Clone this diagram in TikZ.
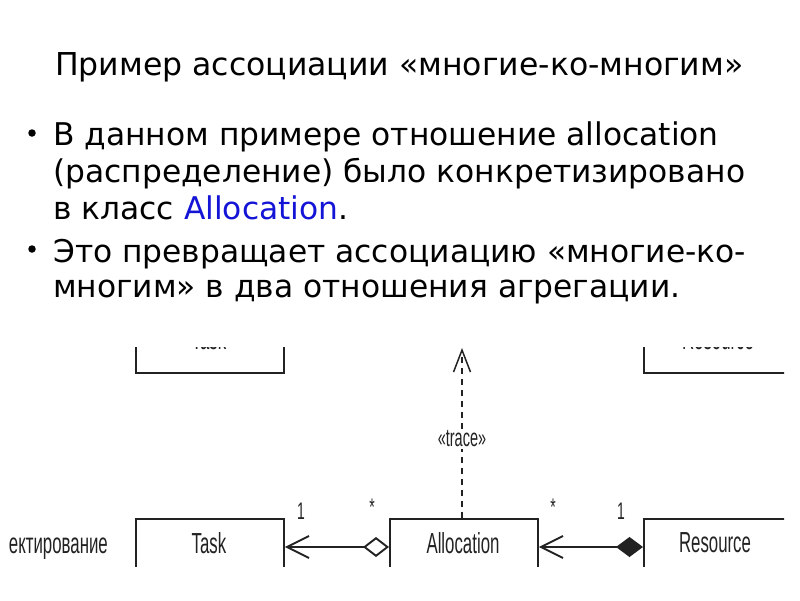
\documentclass[tikz,border=0pt]{standalone}
\usepackage{fontspec}
\setmainfont{DejaVu Sans}
\newfontfamily\umlfont[FakeStretch=0.58]{Liberation Sans}
\usetikzlibrary{arrows.meta}
\definecolor{linkblue}{RGB}{20,20,215}
\definecolor{umlink}{RGB}{34,34,34}
\begin{document}
\begin{tikzpicture}[x=1pt,y=-1pt,
  titletext/.style={anchor=base west, inner sep=0pt, font=\fontsize{31.5}{38}\selectfont},
  bodytext/.style={anchor=base west, inner sep=0pt, font=\fontsize{31.3}{37}\selectfont},
  bulletdot/.style={circle, fill=black, inner sep=0pt, minimum size=7.5pt},
  umlbox/.style={draw=umlink, line width=1.9pt, rectangle, inner sep=0pt, minimum width=148pt, minimum height=58pt, anchor=north west, text=umlink, font=\umlfont\fontsize{29}{32}\selectfont},
  umltext/.style={text=umlink, inner sep=0pt, font=\umlfont\fontsize{29}{32}\selectfont},
  multtext/.style={text=umlink, inner sep=0pt, font=\umlfont\fontsize{24}{26}\selectfont},
  assocline/.style={draw=umlink, line width=1.9pt},
  deptrace/.style={draw=umlink, line width=2pt, dash pattern=on 6pt off 5pt}
]
\useasboundingbox (0,0) rectangle (800,600);
% slide title
\node[titletext] (title) at (55,75) {Пример ассоциации «многие-ко-многим»};
% bullets
\node[bulletdot] (b1) at (32,133) {};
\node[bodytext] (l1) at (53,145) {В данном примере отношение allocation};
\node[bodytext] (l2) at (53,182) {(распределение) было конкретизировано};
\node[bodytext] (l3) at (53,219) {в класс \textcolor{linkblue}{Allocation}.};
\node[bulletdot] (b2) at (32,249) {};
\node[bodytext] (l4) at (53,262) {Это превращает ассоциацию «многие-ко-};
\node[bodytext] (l5) at (53,297) {многим» в два отношения агрегации.};
% cropped diagram
\begin{scope}
\clip (0,347) rectangle (784,566);
% upper row (cut off)
\node[umlbox, minimum height=80pt] (taskup) at (135,292) {};
\node[umltext, anchor=base] (taskuplabel) at (209,349) {Task};
\node[umlbox, minimum width=170pt, minimum height=80pt] (resup) at (643,292) {};
\node[umltext, anchor=base] (resuplabel) at (718,349) {Resource};
% lower row
\node[umlbox] (task) at (135,518) {};
\node[umltext] (tasklabel) at (209,543) {Task};
\node[umlbox] (alloc) at (389,518) {};
\node[umltext] (alloclabel) at (463,543) {Allocation};
\node[umlbox, minimum width=170pt] (res) at (643,518) {};
\node[umltext] (reslabel) at (715,543) {Resource};
\node[umltext, anchor=base east] (leftword) at (108,553) {ектирование};
% associations
\draw[assocline, {Diamond[open, length=26pt, width=20pt]}-{Straight Barb[length=22pt, width=22pt]}]
  (alloc.west |- 0,547) -- (task.east |- 0,547);
\draw[assocline, {Diamond[fill=umlink, length=27pt, width=20pt]}-{Straight Barb[length=22pt, width=22pt]}]
  (res.west |- 0,547) -- (alloc.east |- 0,547);
\node[multtext] (m1) at (301,511) {1};
\node[multtext] (m2) at (372,507) {*};
\node[multtext] (m3) at (553,507) {*};
\node[multtext] (m4) at (621,511) {1};
% trace dependency
\node[text=umlink, inner sep=2pt, font=\umlfont\fontsize{25}{28}\selectfont] (trace) at (462,439) {«trace»};
\coordinate (tracetip) at (462,348);
\draw[deptrace] (alloc.north -| 462,0) -- (trace.south);
\draw[deptrace, -{Straight Barb[length=22pt, width=17pt, line width=1.5pt]}] (trace.north) -- (tracetip);
\end{scope}
\end{tikzpicture}
\end{document}
